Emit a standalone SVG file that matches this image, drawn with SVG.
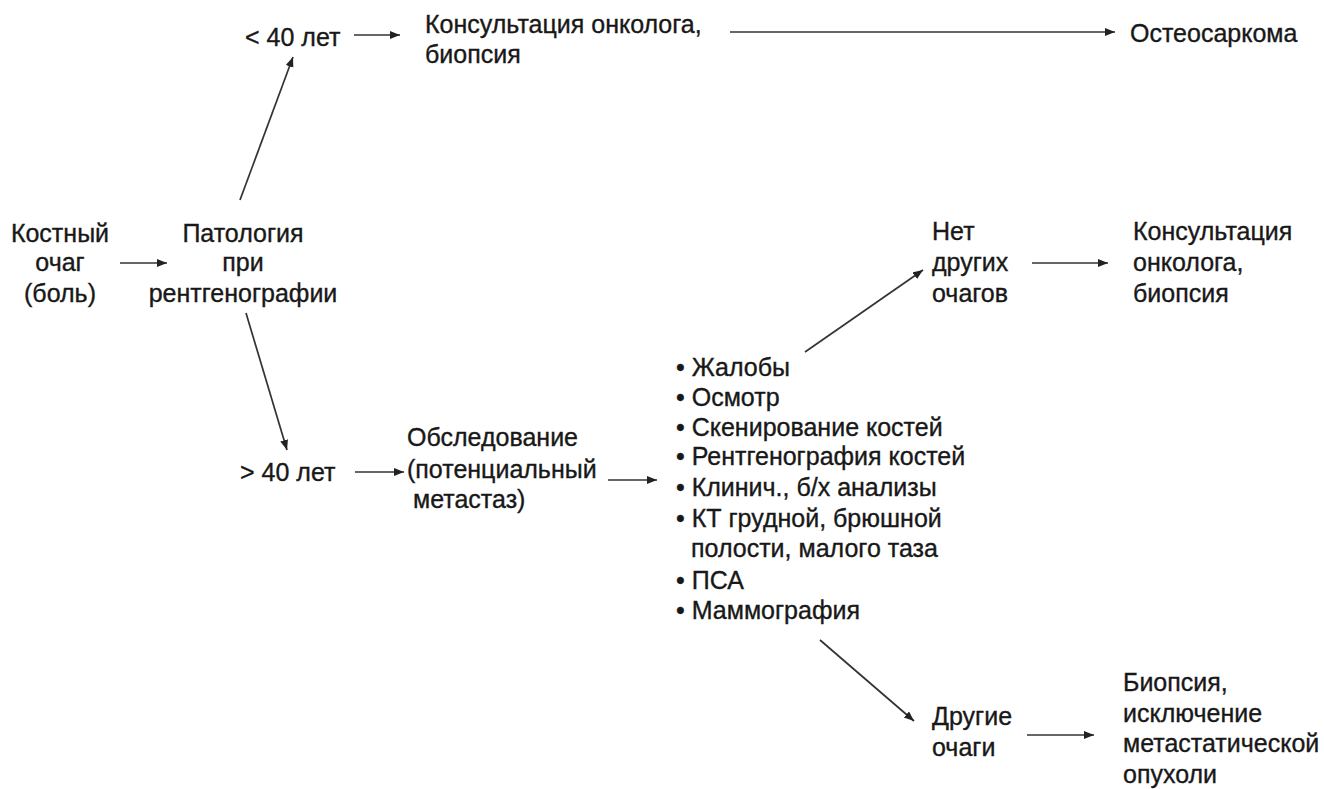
<svg xmlns="http://www.w3.org/2000/svg" width="1324" height="789" viewBox="0 0 1324 789">
<style>
text{font-family:"Liberation Sans",Arial,sans-serif;font-size:25px;fill:#181818;stroke:#181818;stroke-width:0.35}
.c{text-anchor:middle}
.e line{stroke:#333;stroke-width:1.7;marker-end:url(#ah)}
</style>
<defs>
<marker id="ah" markerUnits="userSpaceOnUse" markerWidth="12" markerHeight="10" refX="10" refY="4" orient="auto">
<path d="M0,0 L10,4 L0,8 z" fill="#222"/>
</marker>
</defs>
<rect width="1324" height="789" fill="#fff"/>
<g id="n-kostny"><text class="c" x="60" y="242">Костный</text><text class="c" x="60" y="271">очаг</text><text class="c" x="60" y="302">(боль)</text></g>
<g id="n-patologia"><text class="c" x="243" y="242">Патология</text><text class="c" x="243" y="271">при</text><text class="c" x="243" y="302">рентгенографии</text></g>
<g id="n-lt40"><text x="245" y="46">&lt; 40 лет</text></g>
<g id="n-konsult1"><text x="425" y="33">Консультация онколога,</text><text x="425" y="63">биопсия</text></g>
<g id="n-osteo"><text x="1130" y="42">Остеосаркома</text></g>
<g id="n-gt40"><text x="240" y="481">&gt; 40 лет</text></g>
<g id="n-obsled"><text x="407" y="446">Обследование</text><text x="407" y="478">(потенциальный</text><text x="413" y="508">метастаз)</text></g>
<g id="n-list">
<text x="676" y="376">• Жалобы</text>
<text x="676" y="406">• Осмотр</text>
<text x="676" y="436">• Скенирование костей</text>
<text x="676" y="465">• Рентгенография костей</text>
<text x="676" y="496">• Клинич., б/х анализы</text>
<text x="676" y="527">• КТ грудной, брюшной</text>
<text x="691" y="557">полости, малого таза</text>
<text x="676" y="589">• ПСА</text>
<text x="676" y="619">• Маммография</text>
</g>
<g id="n-net"><text x="932" y="240">Нет</text><text x="932" y="271">других</text><text x="932" y="302">очагов</text></g>
<g id="n-konsult2"><text x="1133" y="240">Консультация</text><text x="1133" y="271">онколога,</text><text x="1133" y="302">биопсия</text></g>
<g id="n-drugie"><text x="932" y="725">Другие</text><text x="932" y="756">очаги</text></g>
<g id="n-biopsia"><text x="1123" y="691">Биопсия,</text><text x="1123" y="722">исключение</text><text x="1123" y="752">метастатической</text><text x="1123" y="783">опухоли</text></g>
<g id="edges" class="e">
<line x1="120" y1="263" x2="167" y2="263"/>
<line x1="240" y1="200" x2="293" y2="57"/>
<line x1="246" y1="313" x2="287" y2="450"/>
<line x1="354" y1="35" x2="400" y2="35"/>
<line x1="730" y1="32" x2="1115" y2="32"/>
<line x1="355" y1="472" x2="404" y2="472"/>
<line x1="608" y1="480" x2="657" y2="480"/>
<line x1="805" y1="352" x2="923" y2="270"/>
<line x1="1032" y1="263" x2="1108" y2="263"/>
<line x1="820" y1="640" x2="914" y2="721"/>
<line x1="1027" y1="735" x2="1094" y2="735"/>
</g>
</svg>
